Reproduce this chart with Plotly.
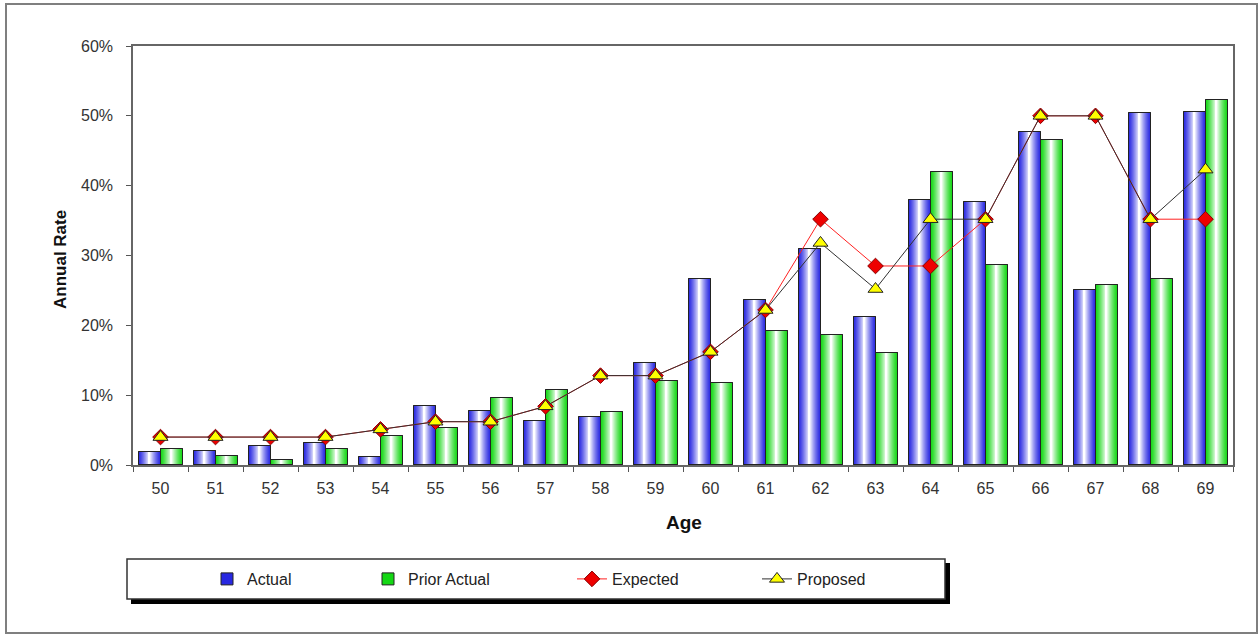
import plotly.graph_objects as go

# ---- data ----
ages = ["50", "51", "52", "53", "54", "55", "56", "57", "58", "59",
        "60", "61", "62", "63", "64", "65", "66", "67", "68", "69"]
actual = [1.8, 2.0, 2.7, 3.2, 1.2, 8.5, 7.8, 6.3, 6.9, 14.6,
          26.7, 23.6, 30.9, 21.2, 37.9, 37.6, 47.7, 25.1, 50.4, 50.6]
prior_actual = [2.3, 1.3, 0.7, 2.3, 4.2, 5.3, 9.6, 10.7, 7.6, 12.1,
                11.8, 19.2, 18.6, 16.0, 42.0, 28.7, 46.6, 25.8, 26.7, 52.2]
expected = [4.0, 4.0, 4.0, 4.0, 5.1, 6.2, 6.2, 8.4, 12.8, 12.8,
            16.2, 22.2, 35.2, 28.5, 28.5, 35.2, 50.0, 50.0, 35.2, 35.2]
proposed = [4.0, 4.0, 4.0, 4.0, 5.1, 6.2, 6.2, 8.4, 12.8, 12.8,
            16.2, 22.2, 31.8, 25.2, 35.2, 35.2, 50.0, 50.0, 35.2, 42.3]
y_ticks = [0, 10, 20, 30, 40, 50, 60]
y_tick_text = ["0%", "10%", "20%", "30%", "40%", "50%", "60%"]

FONT = "Liberation Sans, Arial, sans-serif"
W = 0.4       # bar width in category units
NL = 12       # gradient layers


def mix(c, t):
    r, g, b = c
    return "rgb(%d,%d,%d)" % (round(r + (255 - r) * t), round(g + (255 - g) * t), round(b + (255 - b) * t))


fig = go.Figure()


def gradient_bars(values, base_off, edge, name, legend):
    for k in range(NL):
        frac = k / NL
        w = W * (1 - frac)
        off = base_off + (W - w) / 2
        t = (k / (NL - 1)) ** 1.3
        fig.add_trace(go.Bar(
            x=ages, y=values, width=w, offset=off,
            marker=dict(color=mix(edge, t),
                        line=dict(color="#222222", width=1 if k == 0 else 0)),
            name=name, showlegend=(k == 0), legend=legend,
            hoverinfo="skip" if k else None,
        ))
    # outline on top
    fig.add_trace(go.Bar(
        x=ages, y=values, width=W, offset=base_off,
        marker=dict(color="rgba(0,0,0,0)", line=dict(color="#222222", width=1)),
        showlegend=False, hoverinfo="skip",
    ))


gradient_bars(actual, -W, (40, 40, 225), "Actual", "legend")
gradient_bars(prior_actual, 0.0, (20, 215, 20), "Prior Actual", "legend2")

fig.add_trace(go.Scatter(
    x=ages, y=expected, mode="lines+markers", name="Expected", legend="legend3",
    line=dict(color="#ff2020", width=1),
    marker=dict(symbol="diamond", size=12, color="#ee0000",
                line=dict(color="#880000", width=1)),
))
fig.add_trace(go.Scatter(
    x=ages, y=proposed, mode="lines+markers", name="Proposed", legend="legend4",
    line=dict(color="#303030", width=1),
    marker=dict(symbol="triangle-up", size=13, color="#ffff00",
                line=dict(color="#222222", width=1)),
))

L, R, T, B = 133, 1233, 46, 465
PW, PH = R - L, B - T


def px(xp):
    return (xp - L) / PW


def py(yp):
    return (B - yp) / PH


leg_common = dict(bgcolor="rgba(0,0,0,0)", borderwidth=0, orientation="v",
                  yanchor="middle", xanchor="left", y=py(579),
                  font=dict(family=FONT, size=16, color="#222222"))

fig.update_layout(
    width=1260, height=635,
    margin=dict(l=L, r=1260 - R, t=T, b=635 - B),
    paper_bgcolor="white", plot_bgcolor="white",
    barmode="overlay", bargap=0,
    font=dict(family=FONT, size=16, color="#333333"),
    legend=dict(leg_common, x=px(207)),
    legend2=dict(leg_common, x=px(368)),
    legend3=dict(leg_common, x=px(572)),
    legend4=dict(leg_common, x=px(757)),
    xaxis=dict(
        type="category", categoryorder="array", categoryarray=ages,
        range=[-0.5, len(ages) - 0.5],
        showline=True, linecolor="#666666", linewidth=1.5, mirror=True,
        ticks="outside", tickson="boundaries", ticklen=5, tickcolor="#555555",
        ticklabelstandoff=8, showgrid=False, zeroline=False,
        tickfont=dict(family=FONT, size=16, color="#333333"),
    ),
    yaxis=dict(
        range=[0, 60], tickvals=y_ticks, ticktext=y_tick_text,
        showline=True, linecolor="#666666", linewidth=1.5, mirror=True,
        ticks="outside", ticklen=5, tickcolor="#555555",
        ticklabelstandoff=10, showgrid=False, zeroline=False,
        tickfont=dict(family=FONT, size=16, color="#333333"),
    ),
    annotations=[
        dict(text="<b>Annual Rate</b>", x=px(60), y=py(260), xref="paper", yref="paper",
             xanchor="center", yanchor="middle",
             showarrow=False, textangle=-90, font=dict(family=FONT, size=17, color="#111111")),
        dict(text="<b>Age</b>", x=px(684), y=py(522), xref="paper", yref="paper",
             xanchor="center", yanchor="middle",
             showarrow=False, font=dict(family=FONT, size=19, color="#111111")),
    ],
    shapes=[
        dict(type="rect", xref="paper", yref="paper", layer="below",
             x0=px(6), x1=px(1257), y0=py(633), y1=py(4),
             line=dict(color="#7f7f7f", width=2), fillcolor="rgba(0,0,0,0)"),
        dict(type="rect", xref="paper", yref="paper", layer="below",
             x0=px(131), x1=px(950), y0=py(604), y1=py(563),
             line=dict(width=0), fillcolor="#000000"),
        dict(type="rect", xref="paper", yref="paper", layer="below",
             x0=px(127), x1=px(945), y0=py(599), y1=py(559),
             line=dict(color="#333333", width=1.5), fillcolor="white"),
    ],
)

fig.write_html(
    "out.html",
    config={"displayModeBar": False},
    post_script="document.body.style.margin='0';document.body.style.overflow='hidden';",
)
